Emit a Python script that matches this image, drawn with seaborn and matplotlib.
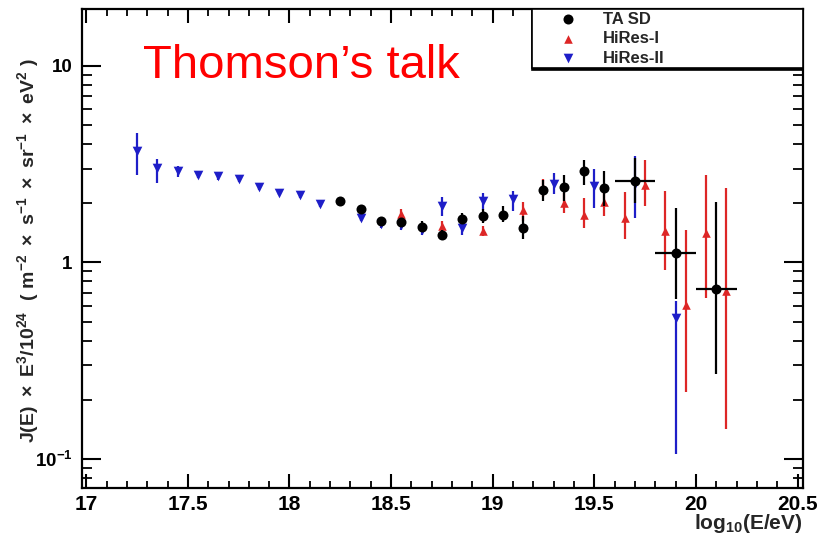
import numpy as np
import pandas as pd
import matplotlib
matplotlib.use("Agg")
import matplotlib.pyplot as plt
import seaborn as sns
from matplotlib.ticker import FixedLocator, MultipleLocator, LogLocator, NullFormatter, FuncFormatter

# ---- TA SD spectrum (E^3 J / 1e24) ----
ta_x = [18.25, 18.35, 18.45, 18.55, 18.65, 18.75, 18.85, 18.95, 19.05, 19.15,
        19.25, 19.35, 19.45, 19.55, 19.70, 19.90, 20.10]
ta_y = [2.05, 1.87, 1.63, 1.60, 1.52, 1.38, 1.67, 1.72, 1.75, 1.50,
        2.33, 2.42, 2.91, 2.39, 2.59, 1.12, 0.735]
ta_lo = [1.97, 1.78, 1.56, 1.52, 1.43, 1.30, 1.56, 1.58, 1.60, 1.31,
         2.05, 2.05, 2.49, 1.93, 2.01, 0.65, 0.27]
ta_hi = [2.13, 1.96, 1.71, 1.69, 1.62, 1.47, 1.79, 1.87, 1.93, 1.72,
         2.64, 2.80, 3.33, 2.91, 3.40, 1.90, 2.02]
ta_xerr = [0, 0, 0, 0, 0, 0, 0, 0, 0, 0, 0, 0, 0, 0, 0.1, 0.1, 0.1]

# ---- HiRes-I ----
h1_x = [18.55, 18.75, 18.95, 19.15, 19.25, 19.35, 19.45, 19.55, 19.65, 19.75,
        19.85, 19.95, 20.05, 20.15]
h1_y = [1.77, 1.53, 1.44, 1.84, 2.40, 2.01, 1.75, 2.03, 1.69, 2.49,
        1.45, 0.61, 1.41, 0.715]
h1_lo = [1.68, 1.44, 1.36, 1.62, 2.15, 1.78, 1.50, 1.72, 1.32, 1.93,
         0.92, 0.218, 0.66, 0.142]
h1_hi = [1.87, 1.63, 1.53, 2.04, 2.66, 2.25, 2.13, 2.36, 2.27, 3.33,
         2.30, 1.47, 2.80, 2.39]

# ---- HiRes-II ----
h2_x = [17.25, 17.35, 17.45, 17.55, 17.65, 17.75, 17.85, 17.95, 18.05, 18.15,
        18.35, 18.45, 18.55, 18.65, 18.75, 18.85, 18.95, 19.10, 19.30, 19.50,
        19.70, 19.90]
h2_y = [3.67, 3.02, 2.91, 2.80, 2.74, 2.66, 2.41, 2.26, 2.19, 1.98,
        1.69, 1.56, 1.55, 1.46, 1.93, 1.50, 2.05, 2.10, 2.52, 2.46,
        2.50, 0.524]
h2_lo = [2.80, 2.55, 2.72, 2.68, 2.64, 2.57, 2.33, 2.19, 2.12, 1.91,
         1.62, 1.49, 1.47, 1.38, 1.72, 1.38, 1.85, 1.82, 2.22, 1.90,
         1.69, 0.106]
h2_hi = [4.57, 3.35, 3.10, 2.93, 2.85, 2.76, 2.50, 2.34, 2.27, 2.06,
         1.77, 1.64, 1.63, 1.55, 2.15, 1.70, 2.25, 2.30, 2.85, 3.00,
         3.46, 0.64]

x_ticks = [17, 17.5, 18, 18.5, 19, 19.5, 20, 20.5]
y_ticks = [0.1, 1, 10]
y_tick_labels = [r"$\mathbf{10^{-1}}$", "1", "10"]

sns.set_style("ticks")
plt.rcParams["font.family"] = ["Liberation Sans", "DejaVu Sans"]
plt.rcParams["mathtext.fontset"] = "custom"
plt.rcParams["mathtext.rm"] = "Liberation Sans:bold"
plt.rcParams["mathtext.bf"] = "Liberation Sans:bold"
plt.rcParams["mathtext.it"] = "Liberation Sans:bold"
plt.rcParams["mathtext.sf"] = "Liberation Sans:bold"
plt.rcParams["mathtext.default"] = "bf"

BLACK = "#000000"
RED = "#dd2626"
BLUE = "#1e1ec8"

fig = plt.figure(figsize=(8.19, 5.40), dpi=100)
W, H = 819, 540
ax = fig.add_axes([82 / W, 1 - 488 / H, 721 / W, 479 / H])


def draw(xs, ys, lo, hi, color, marker, size, label, z, xerr=None):
    df = pd.DataFrame({"x": xs, "y": ys, "lo": lo, "hi": hi})
    yerr = np.vstack([df["y"] - df["lo"], df["hi"] - df["y"]])
    ax.errorbar(df["x"], df["y"], yerr=yerr, xerr=xerr, fmt="none",
                ecolor=color, elinewidth=1.6, capsize=0, zorder=z)
    sns.scatterplot(data=df, x="x", y="y", marker=marker, color=color,
                    s=size, edgecolor=color, linewidth=0, label=label,
                    ax=ax, zorder=z + 0.5)


draw(h2_x, h2_y, h2_lo, h2_hi, BLUE, "v", 48, "HiRes-II", 2)
draw(h1_x, h1_y, h1_lo, h1_hi, RED, "^", 38, "HiRes-I", 3)
draw(ta_x, ta_y, ta_lo, ta_hi, BLACK, "o", 52, "TA SD", 4, xerr=ta_xerr)

ax.set_yscale("log")
ax.set_xlim(16.979, 20.527)
ax.set_ylim(0.0712, 19.46)

ax.xaxis.set_major_locator(FixedLocator(x_ticks))
ax.xaxis.set_minor_locator(MultipleLocator(0.1))
ax.xaxis.set_major_formatter(FuncFormatter(lambda v, p: f"{v:g}"))
ax.yaxis.set_major_locator(FixedLocator(y_ticks))
ax.yaxis.set_major_formatter(FuncFormatter(lambda v, p: y_tick_labels[y_ticks.index(min(y_ticks, key=lambda t: abs(t - v)))]))
ax.yaxis.set_minor_locator(LogLocator(base=10, subs=np.arange(2, 10)))
ax.yaxis.set_minor_formatter(NullFormatter())

ax.tick_params(which="both", direction="in", top=True, right=True, colors="black")
ax.tick_params(axis="x", which="major", length=10, width=1.5, labelsize=15, pad=5)
ax.tick_params(axis="x", which="minor", length=5, width=1.3)
ax.tick_params(axis="y", which="major", length=14, width=1.5, labelsize=13.5, pad=7)
ax.tick_params(axis="y", which="minor", length=7, width=1.3)
for lab in ax.get_xticklabels() + ax.get_yticklabels():
    lab.set_fontweight("bold")
for sp in ax.spines.values():
    sp.set_linewidth(1.6)
    sp.set_color("black")

ax.set_xlabel(r"$\mathbf{log_{10}(E/eV)}$", fontsize=15, ha="right")
ax.xaxis.set_label_coords(1.0, -0.05)
ax.xaxis.label.set_verticalalignment("top")

ax.set_ylabel(r"$\mathbf{J(E)\ \times\ E^{3}/10^{24}\ \ (\ m^{-2}\ \times\ s^{-1}\ \times\ sr^{-1}\ \times\ eV^{2}\ )}$",
              fontsize=14)
ax.yaxis.set_label_coords(-0.075, 0.495)
ax.yaxis.label.set_verticalalignment("center")

# legend in the upper-right corner, ordered TA SD / HiRes-I / HiRes-II
handles, labels = ax.get_legend_handles_labels()
order = [labels.index(n) for n in ["TA SD", "HiRes-I", "HiRes-II"]]
leg = ax.legend([handles[i] for i in order], [labels[i] for i in order],
                loc="upper left", bbox_to_anchor=(0.624, 0.877, 0.376, 0.123),
                mode="expand", borderaxespad=0, borderpad=0.15,
                handlelength=4.0, handletextpad=0.1, labelspacing=0.28,
                scatterpoints=1, fancybox=False, framealpha=1,
                edgecolor="black", facecolor="white",
                prop={"family": "Liberation Sans", "weight": "bold", "size": 12},
                shadow={"ox": 0, "oy": -1.5, "color": "black", "alpha": 1})
leg.get_frame().set_linewidth(1.2)
leg.set_zorder(10)

fig.text(143 / W, 1 - 78 / H, "Thomson\u2019s talk", color="#ff0000",
         fontsize=34, family="Liberation Sans", ha="left", va="baseline")

fig.savefig("out.png", dpi=100, facecolor="white")
